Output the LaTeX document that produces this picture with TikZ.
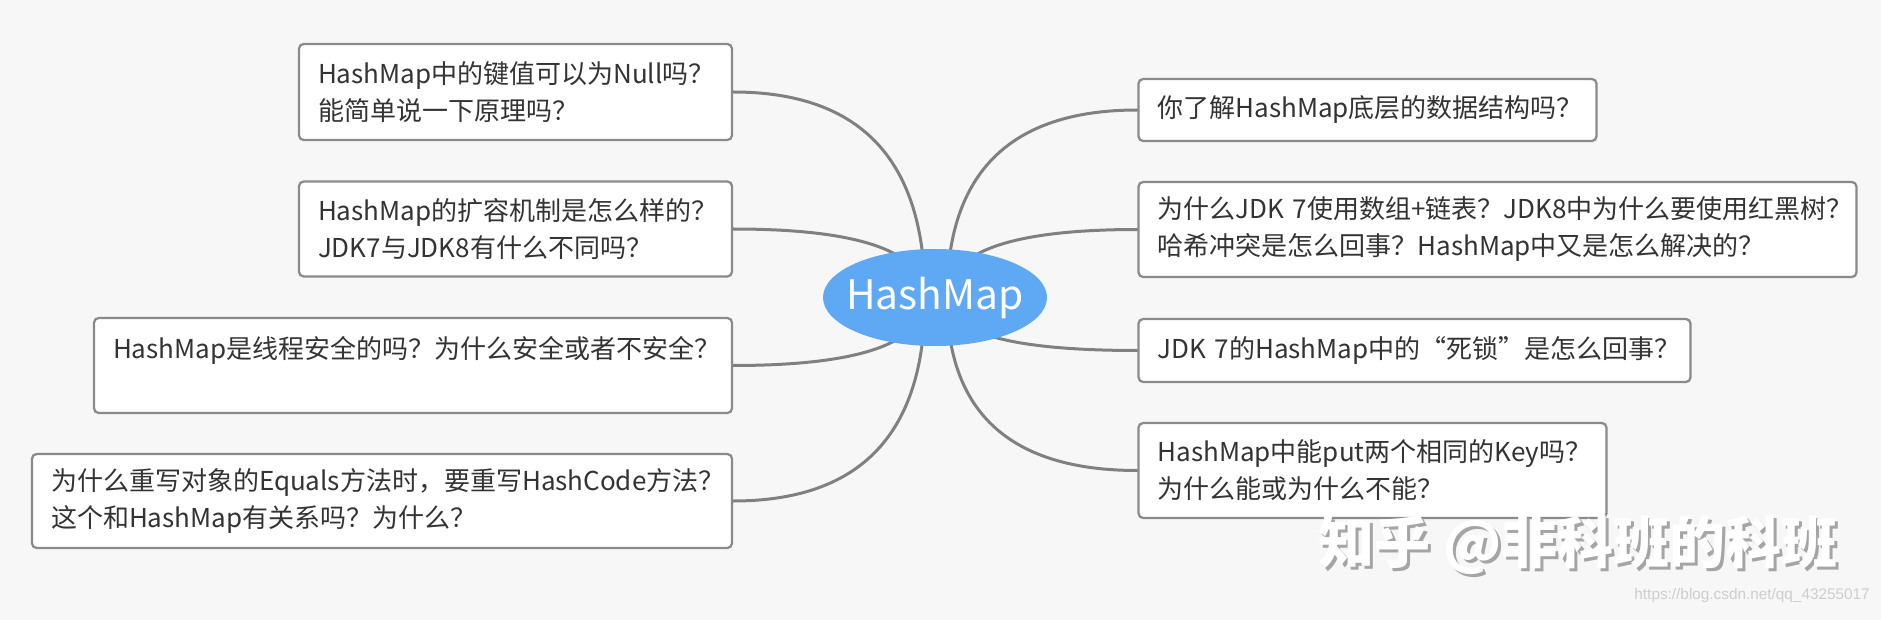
\documentclass[tikz,border=0pt]{standalone}
\usepackage{fontspec}
\setmainfont{Noto Sans CJK SC}
\newfontfamily\urlfont{Liberation Sans}
\usetikzlibrary{shapes.geometric,calc}
\definecolor{bgc}{RGB}{247,247,247}
\definecolor{boxline}{RGB}{138,138,138}
\definecolor{connc}{RGB}{128,128,128}
\definecolor{textc}{RGB}{51,51,51}
\definecolor{rootc}{RGB}{95,168,243}
\definecolor{wmshadow}{RGB}{165,165,165}
\definecolor{urlc}{RGB}{205,205,205}
\pgfdeclarelayer{bglayer}
\pgfdeclarelayer{connlayer}
\pgfsetlayers{bglayer,connlayer,main}
\newcommand\mmconn[2]{\draw[conn] (#1) .. controls ($(#1)!0.667!(#1 |- #2)$) and ($(#2)!0.667!(#1 |- #2)$) .. (#2);}
\begin{document}
\begin{tikzpicture}[x=0.75pt,y=-0.75pt,
  qbox/.style={draw=boxline, line width=1.7pt, rounded corners=3.5pt, fill=white,
    inner xsep=14.25pt, inner ysep=0pt, align=left, text=textc,
    font=\fontsize{19.5pt}{27.75pt}\selectfont},
  root/.style={ellipse, fill=rootc, minimum width=168pt, minimum height=72.75pt,
    inner sep=0pt, text=white, font=\fontsize{30.5pt}{34pt}\selectfont},
  conn/.style={draw=connc, line width=2.25pt, line cap=round},
  wm/.style={inner sep=0pt, font=\fontsize{42pt}{44pt}\selectfont\bfseries}]
\begin{pgfonlayer}{bglayer}
\fill[bgc] (0,0) rectangle (1881,620);
\end{pgfonlayer}
\useasboundingbox (0,0) rectangle (1881,620);

\node[root] (root) at (935,297.5) {\makebox[0pt]{HashMap}};

\node[qbox, text width=296.25pt, minimum height=72pt] (L1) at (515.5,92)
  {HashMap中的键值可以为Null吗？\\能简单说一下原理吗？};
\node[qbox, text width=296.25pt, minimum height=71.25pt] (L2) at (515.5,229)
  {HashMap的扩容机制是怎么样的？\\JDK7与JDK8有什么不同吗？};
\node[qbox, text width=450pt, minimum height=71.25pt] (L3) at (413,365.5)
  {HashMap是线程安全的吗？为什么安全或者不安全？\\\mbox{}};
\node[qbox, text width=496.5pt, minimum height=70.5pt] (L4) at (382,501)
  {为什么重写对象的Equals方法时，要重写HashCode方法？\\这个和HashMap有关系吗？为什么？};

\node[qbox, text width=315pt, minimum height=46.5pt] (R1) at (1367.5,110)
  {你了解HashMap底层的数据结构吗？};
\node[qbox, text width=510pt, minimum height=71.25pt] (R2) at (1497.5,229.5)
  {为什么JDK 7使用数组+链表？JDK8中为什么要使用红黑树？\\哈希冲突是怎么回事？HashMap中又是怎么解决的？};
\node[qbox, text width=385.5pt, minimum height=47.25pt] (R3) at (1414.5,350.5)
  {JDK 7的HashMap中的“死锁”是怎么回事？};
\node[qbox, text width=322.5pt, minimum height=71.25pt] (R4) at (1372.5,470.5)
  {HashMap中能put两个相同的Key吗？\\为什么能或为什么不能？};

\begin{pgfonlayer}{connlayer}
\coordinate (lstart) at ($(root.center)+(-10,0)$);
\coordinate (rstart) at ($(root.center)+(12,0)$);
\mmconn{lstart}{L1.east}
\mmconn{lstart}{L2.east}
\mmconn{lstart}{L3.east}
\mmconn{lstart}{L4.east}
\mmconn{rstart}{R1.west}
\mmconn{rstart}{R2.west}
\mmconn{rstart}{R3.west}
\mmconn{rstart}{R4.west}
\end{pgfonlayer}

\node[wm, text=wmshadow] (wmsh) at (1581,548) {知乎 @非科班的科班};
\node[wm, text=white] (wmark) at (1578,545) {知乎 @非科班的科班};
\node[anchor=east, inner sep=0pt, font=\urlfont\fontsize{11.5pt}{12pt}\selectfont, text=urlc] (url) at (1870,596) {https://blog.csdn.net/qq\_43255017};
\end{tikzpicture}
\end{document}
